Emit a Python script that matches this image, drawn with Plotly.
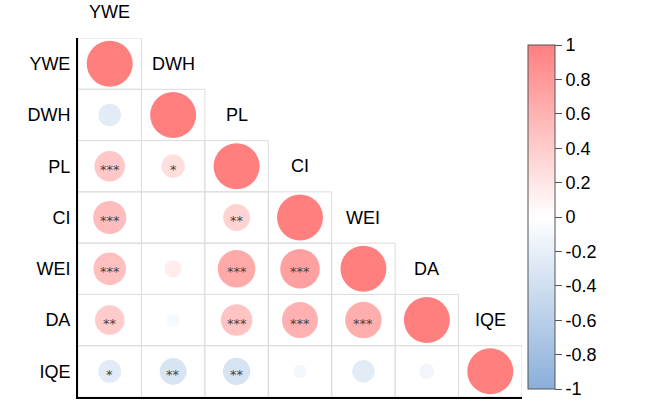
import numpy as np
import plotly.graph_objects as go

# variables (same order for rows and columns)
labels = ["YWE", "DWH", "PL", "CI", "WEI", "DA", "IQE"]

# lower triangle of the correlation matrix, row by row (incl. diagonal)
corr_rows = [
    [1.00],
    [-0.24, 1.00],
    [0.44, 0.26, 1.00],
    [0.52, 0.00, 0.34, 1.00],
    [0.50, 0.14, 0.67, 0.74, 1.00],
    [0.41, -0.08, 0.47, 0.61, 0.63, 1.00],
    [-0.25, -0.34, -0.35, -0.09, -0.24, -0.11, 1.00],
]

# significance stars, same layout
stars_rows = [
    [""],
    ["", ""],
    ["***", "*", ""],
    ["***", "", "**", ""],
    ["***", "", "***", "***", ""],
    ["**", "", "***", "***", "***", ""],
    ["*", "**", "**", "", "", "", ""],
]

cbar_vals = [1, 0.8, 0.6, 0.4, 0.2, 0, -0.2, -0.4, -0.6, -0.8, -1]
cbar_text = ["1", "0.8", "0.6", "0.4", "0.2", "0", "-0.2", "-0.4", "-0.6", "-0.8", "-1"]

n = len(labels)
W, H = 652, 401
ML, MR, MT, MB = 78, 130, 38, 4
plot_h = H - MT - MB
cell_h = plot_h / n
max_d = 46  # circle diameter for |r| = 1

xs, ys, rs = [], [], []
for i, row in enumerate(corr_rows):
    for j, r in enumerate(row):
        xs.append(j + 1)
        ys.append(i + 1)
        rs.append(r)
rs = np.array(rs)

colorscale = [[0, "#8AAFDA"], [0.5, "#FFFFFF"], [1, "#FF7F7F"]]

fig = go.Figure()

# cell borders of the lower triangle
for i in range(n):
    for j in range(i + 1):
        fig.add_shape(type="rect", xref="x", yref="y",
                      x0=j + 0.5, x1=j + 1.5, y0=i + 0.5, y1=i + 1.5,
                      line=dict(color="#DDDDDD", width=1), layer="below")

fig.add_trace(go.Scatter(
    x=xs, y=ys, mode="markers",
    marker=dict(
        size=max_d * np.sqrt(np.abs(rs)), opacity=1,
        color=rs, cmin=-1, cmax=1, colorscale=colorscale,
        line=dict(width=0),
        colorbar=dict(
            x=1.0135, xanchor="left", xpad=0,
            y=(H - MB - 45) / plot_h, yanchor="top", ypad=0,
            lenmode="pixels", len=344, thickness=27,
            outlinecolor="#555555", outlinewidth=1,
            ticks="outside", ticklen=7, tickcolor="#555555",
            tickvals=cbar_vals, ticktext=cbar_text,
            tickfont=dict(family="Liberation Sans, Arial", size=18, color="black"),
        ),
    ),
    hoverinfo="skip", showlegend=False,
))

# stars
for i, row in enumerate(stars_rows):
    for j, s in enumerate(row):
        if s:
            fig.add_annotation(x=j + 1, y=i + 1, text=s, showarrow=False,
                               yshift=-3,
                               font=dict(family="DejaVu Sans", size=13, color="#444444"))

# column labels, placed diagonally above each column
for j, lab in enumerate(labels):
    fig.add_annotation(x=j + 1, y=j + 1, text=lab, showarrow=False,
                       yshift=cell_h,
                       font=dict(family="Liberation Sans, Arial", size=18, color="black"))

fig.update_xaxes(range=[0.5, n + 0.5], showgrid=False, zeroline=False,
                 showticklabels=False, ticks="",
                 showline=True, linecolor="black", linewidth=2)
fig.update_yaxes(range=[n + 0.5, 0.5], showgrid=False, zeroline=False,
                 tickvals=list(range(1, n + 1)), ticktext=labels, ticks="",
                 ticklabelstandoff=2,
                 tickfont=dict(family="Liberation Sans, Arial", size=18, color="black"),
                 showline=True, linecolor="black", linewidth=2)

fig.update_layout(
    width=W, height=H,
    margin=dict(l=ML, r=MR, t=MT, b=MB),
    plot_bgcolor="white", paper_bgcolor="white",
)

# page body has an 8px default margin; drop it so the figure fills the window
fig.write_html("out.html", config={"displayModeBar": False},
               post_script="document.body.style.margin='0';")
